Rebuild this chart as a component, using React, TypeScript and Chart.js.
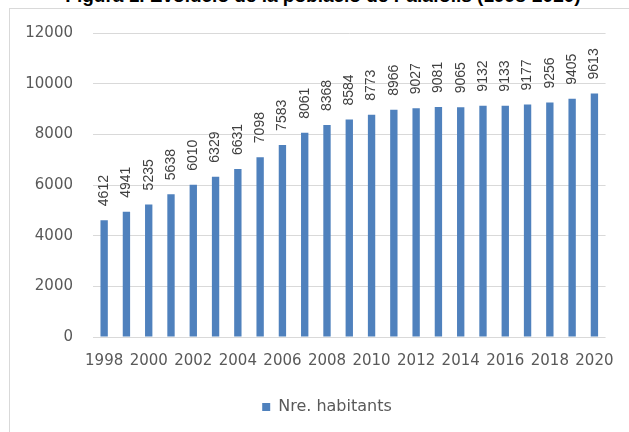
import React, { useEffect, useRef } from "react";
import { Chart, registerables } from "chart.js";

Chart.register(...registerables);

const chartTitle = "Figura 1. Evolució de la població de Palafolls (1998-2020)";
const seriesName = "Nre. habitants";
const years = [
  "1998", "1999", "2000", "2001", "2002", "2003", "2004", "2005", "2006", "2007", "2008", "2009",
  "2010", "2011", "2012", "2013", "2014", "2015", "2016", "2017", "2018", "2019", "2020",
];
const habitants = [
  4612, 4941, 5235, 5638, 6010, 6329, 6631, 7098, 7583, 8061, 8368, 8584,
  8773, 8966, 9027, 9081, 9065, 9132, 9133, 9177, 9256, 9405, 9613,
];
const yTicks = [0, 2000, 4000, 6000, 8000, 10000, 12000];

const TICK_FONT = "'DejaVu Sans', 'Liberation Sans', sans-serif";

const valueLabels = {
  id: "valueLabels",
  afterDatasetsDraw(chart: any) {
    const ctx = chart.ctx;
    const meta = chart.getDatasetMeta(0);
    const data = chart.data.datasets[0].data;
    ctx.save();
    ctx.font = "14px 'Liberation Sans', Arial, sans-serif";
    ctx.fillStyle = "#404040";
    ctx.textAlign = "left";
    ctx.textBaseline = "middle";
    meta.data.forEach((bar: any, i: number) => {
      ctx.save();
      ctx.translate(bar.x, bar.y - 14);
      ctx.rotate(-Math.PI / 2);
      ctx.fillText(String(data[i]), 0, 0);
      ctx.restore();
    });
    ctx.restore();
  },
};

// centre the legend the way the reference does (slightly right of the plot centre)
const legendShift = {
  id: "legendShift",
  afterLayout(chart: any) {
    if (chart.legend) chart.legend.left = 48;
  },
};

export default function App() {
  const ref = useRef<HTMLCanvasElement>(null);

  useEffect(() => {
    if (!ref.current) return;
    const chart = new Chart(ref.current, {
      type: "bar",
      data: {
        labels: years,
        datasets: [
          {
            label: seriesName,
            data: habitants,
            backgroundColor: "#4F81BD",
            borderWidth: 0,
            barPercentage: 0.33,
            categoryPercentage: 1,
          },
        ],
      },
      options: {
        responsive: false,
        animation: false,
        layout: { padding: { left: 0, right: 23, top: 33, bottom: 7 } },
        plugins: {
          title: { display: false },
          tooltip: { enabled: false },
          legend: {
            position: "bottom",
            labels: {
              boxWidth: 8,
              boxHeight: 8,
              padding: 10,
              color: "#595959",
              font: { family: TICK_FONT, size: 16 },
            },
          },
        },
        scales: {
          x: {
            grid: { display: false, drawTicks: false },
            border: { display: false },
            ticks: {
              autoSkip: false,
              maxRotation: 0,
              minRotation: 0,
              padding: 15,
              color: "#595959",
              font: { family: TICK_FONT, size: 15 },
              callback: (_v: any, i: number) => (i % 2 === 0 ? years[i] : ""),
            },
            afterFit: (s: any) => {
              s.height = 52;
            },
          },
          y: {
            min: 0,
            max: 12000,
            afterBuildTicks: (s: any) => {
              s.ticks = yTicks.map((v) => ({ value: v }));
            },
            grid: { color: "#d9d9d9", drawTicks: false },
            border: { display: false },
            ticks: {
              padding: 20,
              color: "#595959",
              font: { family: TICK_FONT, size: 15 },
              callback: (v: any) => String(v),
            },
            afterFit: (s: any) => {
              s.width = 93;
            },
          },
        },
      },
      plugins: [valueLabels, legendShift],
    });
    return () => chart.destroy();
  }, []);

  return (
    <div
      style={{
        position: "absolute",
        left: 0,
        top: 0,
        width: 629,
        height: 432,
        overflow: "hidden",
        background: "#fff",
      }}
    >
      <div
        style={{
          position: "absolute",
          left: 9,
          top: 8,
          width: 700,
          height: 500,
          borderLeft: "1px solid #d9d9d9",
          borderTop: "1px solid #d9d9d9",
        }}
      />
      <div
        style={{
          position: "absolute",
          left: 0,
          top: -14,
          width: 646,
          textAlign: "center",
          font: "bold 19px/19px 'Liberation Sans', Arial, sans-serif",
          color: "#000",
          whiteSpace: "nowrap",
        }}
      >
        {chartTitle}
      </div>
      <canvas
        ref={ref}
        width={629}
        height={432}
        style={{ position: "absolute", left: 0, top: 0, width: 629, height: 432 }}
      />
    </div>
  );
}
